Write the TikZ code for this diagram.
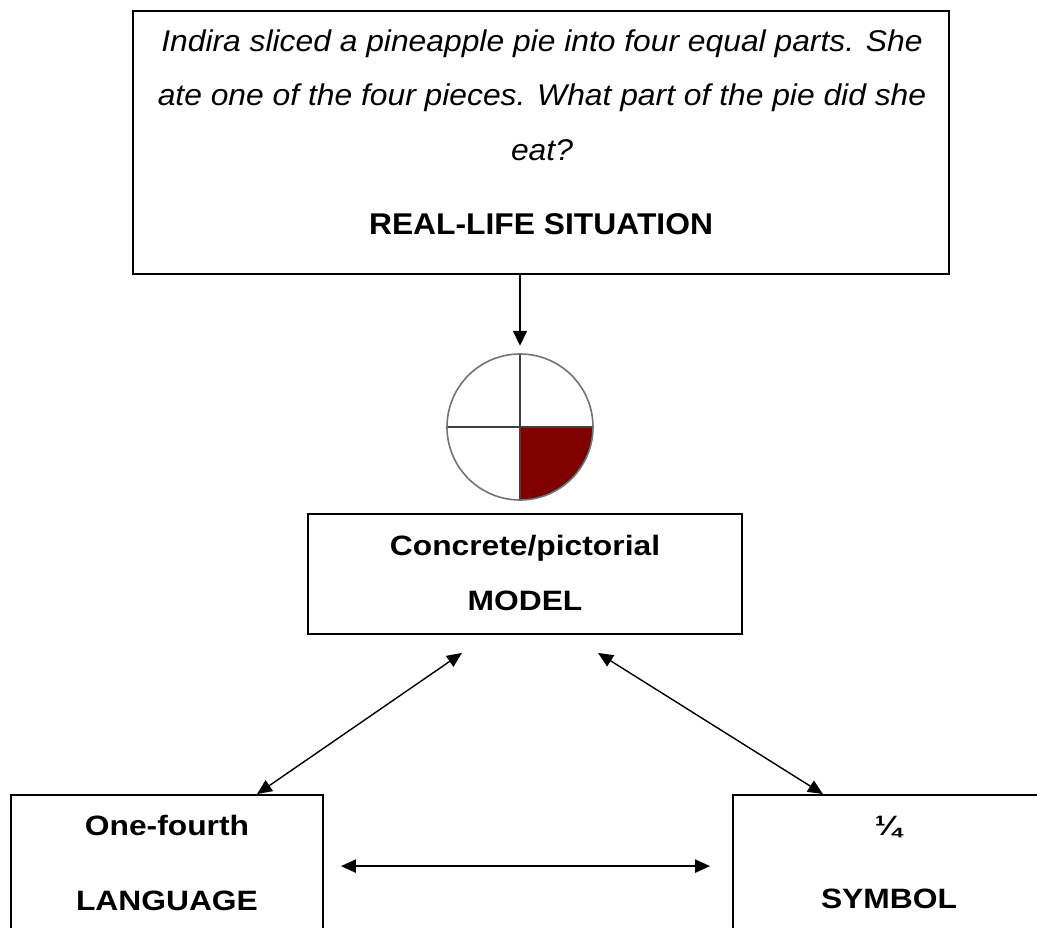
\documentclass[tikz,border=0pt]{standalone}
\usepackage{fontspec}
\setmainfont{Liberation Sans}[FakeStretch=1.135]
\newfontfamily\storyfont{Liberation Sans}[FakeStretch=1.06]
\usetikzlibrary{arrows.meta,calc}
\definecolor{piered}{HTML}{800000}
\tikzset{
	box/.style={draw, line width=1.8pt, inner sep=0pt},
	story/.style={anchor=base, inner sep=0pt, font=\storyfont\fontsize{30}{36}\selectfont\itshape},
	storytitle/.style={anchor=base, inner sep=0pt, font=\storyfont\fontsize{30}{36}\selectfont\bfseries},
	label/.style={anchor=base, inner sep=0pt, font=\fontsize{28}{34}\selectfont\bfseries},
	flow/.style={line width=1.6pt, -{Triangle[length=15pt,width=14pt]}},
	link/.style={line width=1.4pt, {Triangle[length=15pt,width=13pt]}-{Triangle[length=15pt,width=13pt]}},
}

\begin{document}
\begin{tikzpicture}[x=1pt, y=-1pt]
			%%%%% START %%%%%
			\useasboundingbox (0,0) rectangle (1037,928);
			
			\node[box, minimum width=816pt, minimum height=263pt] (situation) at (541,142.5) {};
			\node[story] (story1) at (542,52) {Indira sliced a pineapple pie into four equal parts. She};
			\node[story] (story2) at (542,106) {ate one of the four pieces. What part of the pie did she};
			\node[story] (story3) at (542,161) {eat?};
			\node[storytitle] (situationtitle) at (541,235) {REAL-LIFE SITUATION};
			
			\node[circle, minimum size=146pt, inner sep=0pt] (pie) at (520,427) {};
			\fill[piered] (pie.center) -- (pie.east) arc (0:-90:73pt) -- cycle;
			\draw[line width=1.6pt, color=black!75] (pie.north) -- (pie.south);
			\draw[line width=1.6pt, color=black!75] (pie.west) -- (pie.east);
			\draw[line width=1.6pt, color=black!55] (pie.center) circle (73pt);
			
			\node[box, minimum width=434pt, minimum height=120pt] (model) at (525,574) {};
			\node[label] (modeltop) at (525,555) {Concrete/pictorial};
			\node[label] (modeltitle) at (525,610) {MODEL};
			
			\node[box, minimum width=312pt, minimum height=165pt] (language) at (167,877.5) {};
			\node[label] (languagetop) at (167,835) {One-fourth};
			\node[label] (languagetitle) at (167,910) {LANGUAGE};
			
			\node[box, minimum width=312pt, minimum height=165pt] (symbol) at (889,877.5) {};
			\node[label] (symboltop) at (888,835) {¼};
			\node[label] (symboltitle) at (889,908) {SYMBOL};
			
			\draw[flow, shorten >=8pt] ($(situation.south)+(-21,0)$) -- (pie.north);
			\draw[link] ($(model.south)+(-63,18)$) -- ($(language.north)+(90,0)$);
			\draw[link] ($(model.south)+(73,18)$) -- ($(symbol.north)+(-66,0)$);
			\draw[link, line width=2.2pt] ($(language.north east)+(17,72)$) -- ($(symbol.north west)+(-22,72)$);
			
			%%%%% END %%%%%
\end{tikzpicture}
\end{document}
